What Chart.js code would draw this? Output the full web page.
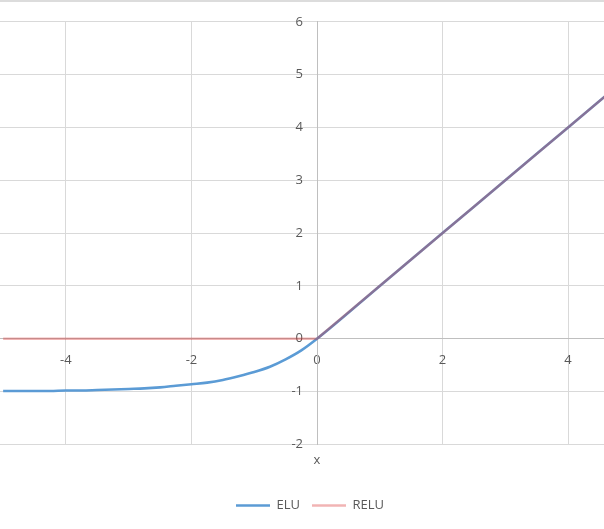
<!DOCTYPE html>
<html><head><meta charset="utf-8">
<script src="https://cdn.jsdelivr.net/npm/chart.js@4.4.1/dist/chart.umd.min.js"></script>
<style>
html,body{margin:0;padding:0;background:#fff;overflow:hidden;width:604px;height:529px;}
#topline{position:absolute;left:0;top:0;width:604px;height:2px;background:#dcdcdc;z-index:2;}
#wrap{position:absolute;left:-14px;top:0;width:648px;height:529px;}
</style></head><body>
<div id="topline"></div>
<div id="wrap"><canvas id="c"></canvas></div>
<script>
// ELU curve
const eluX = [-5, -4.75, -4.5, -4.25, -4, -3.75, -3.5, -3.25, -3, -2.75, -2.5, -2.25, -2, -1.75, -1.5, -1.25, -1, -0.75, -0.5, -0.25, 0, 1, 2, 3, 4, 5];
const eluY = [-0.99, -0.99, -0.99, -0.99, -0.98, -0.98, -0.97, -0.96, -0.95, -0.94, -0.92, -0.89, -0.86, -0.83, -0.78, -0.71, -0.63, -0.53, -0.39, -0.22, 0, 1, 2, 3, 4, 5];
// RELU
const reluX = [-5, 0, 5];
const reluY = [0, 0, 5];
// axis ticks
const xTickValues = [-4, -2, 0, 2, 4];
const yTickValues = [-2, -1, 0, 1, 2, 3, 4, 5, 6];
const xTitle = 'x';
const seriesNames = ['ELU', 'RELU'];

const toPts = (xs, ys) => xs.map((x, i) => ({x: x, y: ys[i]}));
const FONT = "'Open Sans', sans-serif";
const TXT = '#595959';
const Y_LABEL_GAP = 14;

new Chart(document.getElementById('c'), {
  type: 'scatter',
  data: {
    datasets: [
      {label: seriesNames[0], data: toPts(eluX, eluY), showLine: true, borderColor: '#5B9BD5', backgroundColor: '#5B9BD5',
       borderWidth: 2.6, pointRadius: 0, cubicInterpolationMode: 'monotone', order: 1, xAxisID: 'x', yAxisID: 'y'},
      {label: seriesNames[1], data: toPts(reluX, reluY), showLine: true, borderColor: 'rgba(215,40,40,0.35)', backgroundColor: 'rgba(215,40,40,0.35)',
       borderWidth: 2.6, pointRadius: 0, tension: 0, order: 0, xAxisID: 'x', yAxisID: 'y'}
    ]
  },
  options: {
    responsive: true, maintainAspectRatio: false, animation: false,
    layout: {padding: {top: 18, left: 0, right: 0, bottom: 7}},
    plugins: {
      tooltip: {enabled: false},
      legend: {
        position: 'bottom',
        labels: {
          usePointStyle: true, pointStyle: 'line', pointStyleWidth: 34,
          font: {family: FONT, size: 13}, color: TXT, padding: 12,
          sort: (a, b) => a.datasetIndex - b.datasetIndex
        }
      }
    },
    scales: {
      x: {
        type: 'linear', position: {y: 0}, min: -5.05, max: 5.05,
        afterBuildTicks: s => { s.ticks = xTickValues.map(v => ({value: v})); },
        grid: {color: '#d9d9d9', drawTicks: false},
        border: {color: '#bfbfbf'},
        ticks: {font: {family: FONT, size: 13}, color: TXT, padding: 14, maxRotation: 0}
      },
      x2: {
        type: 'linear', position: 'bottom', min: -5.05, max: 5.05,
        grid: {display: false, drawTicks: false}, border: {display: false},
        ticks: {display: false},
        title: {display: true, text: xTitle, font: {family: FONT, size: 13}, color: TXT, padding: {top: 8, bottom: 19}}
      },
      y: {
        type: 'linear', position: {x: 0}, min: -2, max: 6,
        afterBuildTicks: s => { s.ticks = yTickValues.map(v => ({value: v})); },
        afterUpdate: s => {
          if (!s._gapPatched) {
            const orig = s._computeLabelItems.bind(s);
            s._computeLabelItems = function (ca) {
              const items = orig(ca);
              items.forEach(it => { it.options.translation[0] -= Y_LABEL_GAP; });
              return items;
            };
            s._gapPatched = true;
          }
        },
        grid: {color: '#d9d9d9', drawTicks: false},
        border: {color: '#bfbfbf'},
        ticks: {font: {family: FONT, size: 13}, color: TXT, padding: 14}
      },
      yPad: {
        type: 'linear', position: 'left', display: true,
        grid: {display: false, drawTicks: false}, border: {display: false},
        ticks: {display: false},
        afterFit: s => { s.width = 14; }
      }
    }
  }
});
</script>
</body></html>
